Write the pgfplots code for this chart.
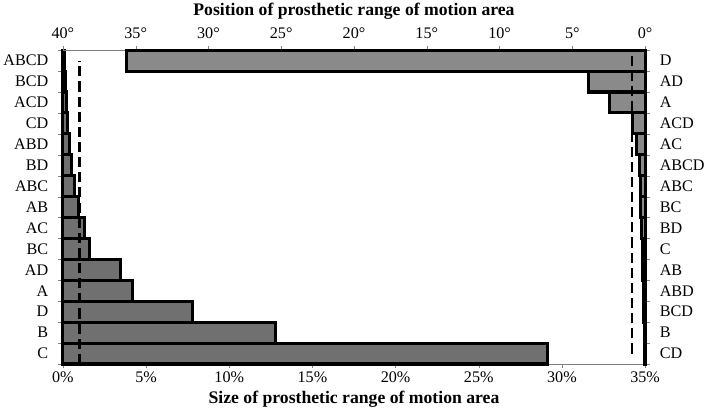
\documentclass[border=0pt]{standalone}
\usepackage{fontspec}
\setmainfont{Liberation Serif}
\usepackage{pgfplots}
\pgfplotsset{compat=1.18}
\definecolor{barlow}{HTML}{707070}
\definecolor{barhigh}{HTML}{8A8A8A}
\begin{document}
\begin{tikzpicture}[font=\fontsize{16}{18}\selectfont]
\pgfplotsset{
  common/.style={width=577pt, height=311pt, scale only axis, clip=false,
    ymin=-0.5, ymax=14.5,
    ytick={0,...,14}, minor ytick={-0.5,0.5,...,14.5},
    major y tick style={draw=none}, minor y tick style={gray},
    tick align=outside, major tick length=4pt, minor tick length=5pt,
    x tick style={gray},
    axis line style={gray},
    /pgf/number format/assume math mode=true,
    label style={font=\fontsize{17.5}{19}\selectfont\bfseries}},
  bars/.style={xbar, bar width=1, draw=black, line width=3pt},
  thresh/.style={black, line width=2.4pt, dash pattern=on 10pt off 5pt}
}
% size of area, bottom axis, categories on the left
\begin{axis}[common,
  axis x line*=bottom, axis y line*=left,
  xmin=0, xmax=35, xtick={0,5,...,35},
  xticklabel={\pgfmathprintnumber{\tick}\%},
  xlabel={Size of prosthetic range of motion area},
  xlabel style={yshift=-2pt},
  yticklabel style={xshift=-7pt},
  yticklabels={C,B,D,A,AD,BC,AC,AB,ABC,BD,ABD,CD,ACD,BCD,ABCD}]
\addplot[bars, fill=barlow] coordinates {
  (29.15,0) (12.8,1) (7.82,2) (4.18,3) (3.47,4) (1.58,5) (1.31,6) (0.91,7)
  (0.67,8) (0.5,9) (0.4,10) (0.27,11) (0.2,12) (0.15,13) (0.1,14)};
\addplot[thresh] coordinates {(1,-0.5) (1,14)};
\end{axis}
% position of area, top axis, categories on the right
\begin{axis}[common,
  axis x line*=top, axis y line*=right, x dir=reverse,
  xmin=0, xmax=40, xtick={0,5,...,40},
  xticklabel={\pgfmathprintnumber{\tick}°},
  xticklabel style={yshift=4pt},
  xlabel={Position of prosthetic range of motion area},
  xlabel style={yshift=1pt},
  yticklabel style={xshift=7pt},
  yticklabels={CD,B,BCD,ABD,AB,C,BD,BC,ABC,ABCD,AC,ACD,A,AD,D}]
\addplot[bars, fill=barhigh] coordinates {
  (0.03,0) (0.05,1) (0.08,2) (0.1,3) (0.15,4) (0.2,5) (0.25,6) (0.3,7)
  (0.35,8) (0.4,9) (0.58,10) (0.85,11) (2.43,12) (3.9,13) (35.6,14)};
\addplot[thresh] coordinates {(0.9,0) (0.9,14.5)};
\end{axis}
\end{tikzpicture}
\end{document}
